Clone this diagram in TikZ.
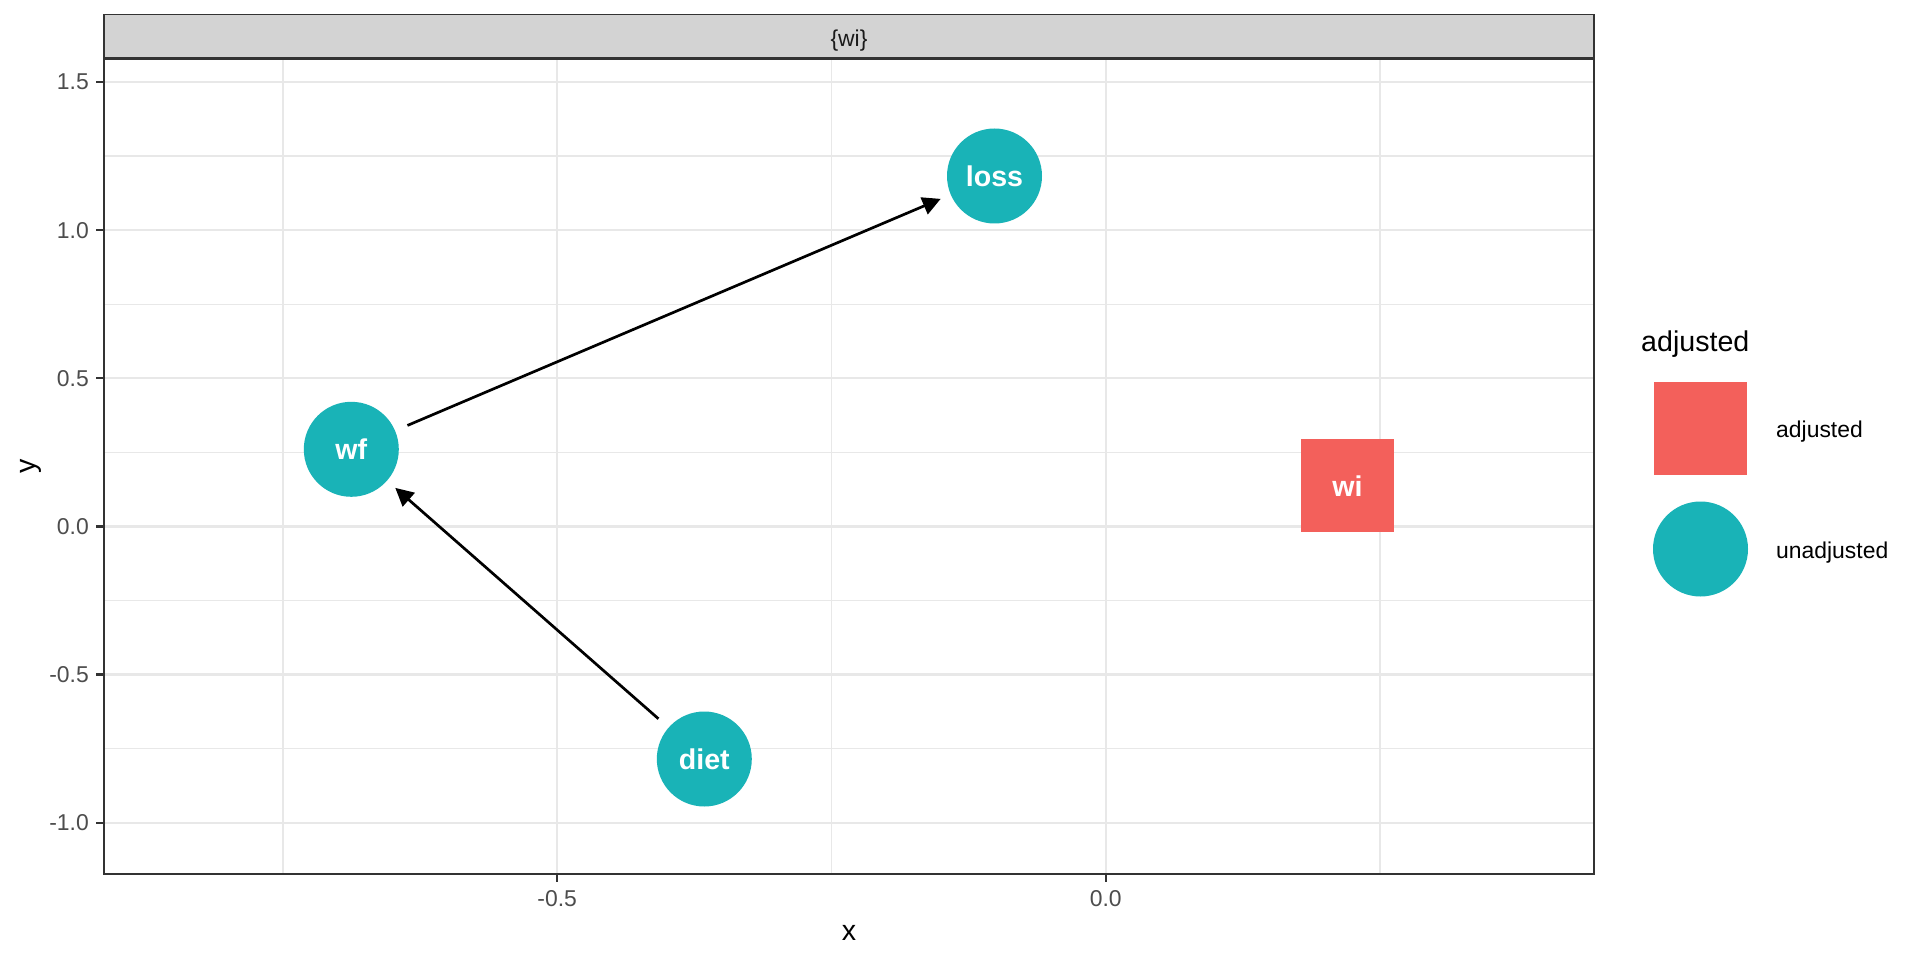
\documentclass[tikz,border=0pt]{standalone}
\usepackage{fontspec}
\setmainfont{Liberation Sans}
\usetikzlibrary{arrows.meta}
\definecolor{tealc}{HTML}{19B3B7}
\definecolor{redc}{HTML}{F3605B}
\definecolor{gridc}{HTML}{E8E8E8}
\definecolor{borderc}{HTML}{333333}
\definecolor{stripc}{HTML}{D3D3D3}
\definecolor{tickc}{HTML}{4D4D4D}
\definecolor{stript}{HTML}{1A1A1A}
\begin{document}
\begin{tikzpicture}[x=1pt,y=-1pt,
  majorgrid/.style={draw=gridc,line width=2.3pt},
  minorgrid/.style={draw=gridc,line width=1.2pt},
  dagnode/.style={circle,fill=tealc,minimum size=95pt,inner sep=0pt,outer sep=0pt,text=white,font=\fontsize{28.6}{34}\selectfont\bfseries},
  adjnode/.style={rectangle,fill=redc,minimum size=93pt,inner sep=0pt,outer sep=0pt,text=white,font=\fontsize{28.6}{34}\selectfont\bfseries},
  edge/.style={-{Triangle[length=18pt,width=18pt]},line width=2.7pt,draw=black,shorten >=11pt,shorten <=13.5pt},
  ticklab/.style={text=tickc,font=\fontsize{22.9}{27}\selectfont,inner sep=0pt},
  tickmark/.style={draw=borderc,line width=2.3pt},
  axtitle/.style={text=black,font=\fontsize{28.6}{34}\selectfont,inner sep=0pt},
  leglab/.style={text=black,font=\fontsize{22.9}{27}\selectfont,inner sep=0pt,anchor=base west},
  ]
\useasboundingbox (0,0) rectangle (1920,960);
\fill[white] (0,0) rectangle (1920,960);
% minor grid
\foreach \gx in {283,831.5,1380} \draw[minorgrid] (\gx,58.8) -- (\gx,874);
\foreach \gy in {156,304.3,452.4,600.6,748.7} \draw[minorgrid] (104,\gy) -- (1594,\gy);
% major grid
\foreach \gx in {557.2,1105.7} \draw[majorgrid] (\gx,58.8) -- (\gx,874);
\foreach \gy in {82,230.2,378.3,526.5,674.6,822.8} \draw[majorgrid] (104,\gy) -- (1594,\gy);
% panel border
\draw[borderc,line width=1.6pt] (104,58.8) rectangle (1594,874);
% strip
\draw[borderc,line width=1.6pt,fill=stripc] (104,14.7) rectangle (1594,58.8);
\draw[borderc,line width=2.8pt] (104,58.8) -- (1594,58.8);
\node[text=stript,font=\fontsize{22.9}{27}\selectfont,inner sep=0pt,anchor=base] (striplab) at (849,47) {\{wi\}};
% y ticks
\foreach \gy/\lab in {82/1.5,230.2/1.0,378.3/0.5,526.5/0.0,674.6/-0.5,822.8/-1.0}{
  \draw[tickmark] (96,\gy) -- (104,\gy);
  \node[ticklab,anchor=east] at (89,\gy) {\lab};
}
% x ticks
\foreach \gx/\lab in {557.2/-0.5,1105.7/0.0}{
  \draw[tickmark] (\gx,874) -- (\gx,882);
  \node[ticklab,anchor=base] at (\gx,906) {\lab};
}
% axis titles
\node[axtitle,anchor=base] (xtitle) at (849,940) {x};
\node[axtitle,anchor=base,rotate=90] (ytitle) at (35,466.4) {y};
% nodes
\node[dagnode] (loss) at (994.5,176) {loss};
\node[dagnode] (wf) at (351.3,449.3) {wf};
\node[dagnode] (diet) at (704.3,759) {diet};
\node[adjnode] (wi) at (1347.5,485.7) {wi};
% edges
\draw[edge] (wf) -- (loss);
\draw[edge] (diet) -- (wf);
% legend
\node[axtitle,anchor=base west] (legtitle) at (1641,351) {adjusted};
\node[adjnode,text=redc] (keyadj) at (1700.5,428) {};
\node[dagnode] (keyunadj) at (1700.5,549) {};
\node[leglab] (labadj) at (1776,437) {adjusted};
\node[leglab] (labunadj) at (1776,558) {unadjusted};
\end{tikzpicture}
\end{document}
